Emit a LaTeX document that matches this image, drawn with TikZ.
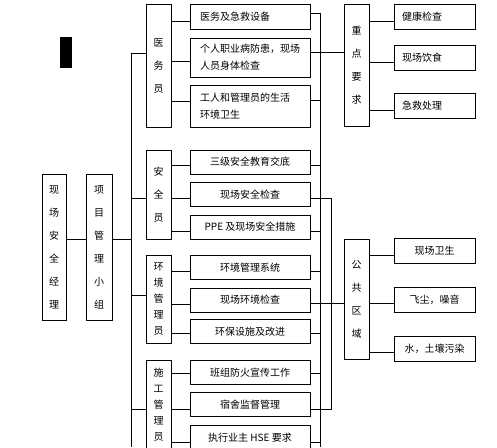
\documentclass[tikz,border=0pt]{standalone}
\usepackage{fontspec}
\newfontfamily\cjk{Noto Sans CJK SC}

\begin{document}
\begin{tikzpicture}[
  x=1pt, y=-1pt, line width=0.9pt,
  font=\cjk\fontsize{10}{12}\selectfont,
  item/.style={draw, minimum width=120, minimum height=24, inner sep=0pt},
  mitem/.style={item, align=left, text width=100, font=\cjk\fontsize{10}{17}\selectfont},
  ritem/.style={draw, minimum width=81, minimum height=25, inner sep=0pt},
  kitem/.style={ritem, align=left, text width=65},
  grp/.style={draw, minimum width=25, inner sep=0pt, align=center,
    font=\cjk\fontsize{10}{23}\selectfont},
  tight/.style={font=\cjk\fontsize{10}{16}\selectfont},
]
\useasboundingbox (0,0) rectangle (497,447);

% ---------- LEFT: MANAGER AND TEAM ----------
\fill (60,37) rectangle (72,68);
\node[grp, minimum width=24, minimum height=146] (mgr) at (54,247) {现\\场\\安\\全\\经\\理};
\node[grp, minimum width=26, minimum height=146] (team) at (99,247) {项\\目\\管\\理\\小\\组};
\coordinate (lbus) at (131,447);

% ---------- GROUPS ----------
\node[grp, minimum height=123] (med) at (158.5,65.5) {医\\务\\员};
\node[grp, minimum height=89] (safe) at (158.5,194.5) {安\\全\\员};
\node[grp, tight, minimum height=88] (env) at (158.5,299) {环\\境\\管\\理\\员};
\node[grp, tight, minimum height=90] (cons) at (158.5,405) {施\\工\\管\\理\\员};

% ---------- ITEMS ----------
\node[mitem, minimum height=25] (m1) at (250,16.5) {医务及急救设备};
\node[mitem, minimum height=39] (m2) at (250,57.5) {个人职业病防患，现场\\人员身体检查};
\node[mitem, minimum height=42] (m3) at (250,106) {工人和管理员的生活\\环境卫生};
\foreach \n/\y/\t in {%
  s1/162/三级安全教育交底, s2/194.5/现场安全检查, s3/227/PPE 及现场安全措施,%
  e1/267.5/环境管理系统, e2/300/现场环境检查, e3/331.5/环保设施及改进,%
  c1/372.5/班组防火宣传工作, c2/404.5/宿舍监督管理, c3/437.5/执行业主 HSE 要求}{%
  \node[item] (\n) at (250,\y) {\t};}

% ---------- RIGHT: KEY POINTS AND PUBLIC AREA ----------
\node[grp, minimum height=122] (key) at (356.5,65) {重\\点\\要\\求};
\node[grp, minimum height=120] (pub) at (356.5,299) {公\\共\\区\\域};
\foreach \n/\y/\t in {k1/16.5/健康检查, k2/57.5/现场饮食, k3/105.5/急救处理}{%
  \node[kitem] (\n) at (434.5,\y) {\t};}
\foreach \n/\y/\t in {p1/251/现场卫生, p2/299.5/飞尘，噪音, p3/349/水，土壤污染}{%
  \node[ritem] (\n) at (434.5,\y) {\t};}
\coordinate (rbus) at (320,447);
\coordinate (rbus2) at (331,0);

% ---------- CONNECTORS ----------
\draw (mgr.east |- 0,239) -- (team.west |- 0,239);
\draw (team.east |- 0,239) -- (lbus |- 0,239);
\draw (med.west |- 0,53) -| (lbus);
\foreach \g/\y in {safe/198, env/295, cons/409}
  \draw (\g.west |- 0,\y) -- (lbus |- 0,\y);
\foreach \g/\i/\y in {med/m1/21, med/m2/61, med/m3/101,
  safe/s1/165, safe/s2/198, safe/s3/231, env/e1/271, env/e2/304, env/e3/333,
  cons/c1/373, cons/c2/409, cons/c3/442}
  \draw (\g.east |- 0,\y) -- (\i.west |- 0,\y);
\draw (m1.east |- 0,13) -| (rbus);
\foreach \i/\y in {m2/52, m3/100, s1/165, s3/231, e1/271, e3/333, c1/373, c3/442}
  \draw (\i.east |- 0,\y) -- (rbus |- 0,\y);
\draw (s2.east |- 0,198) -| (rbus2 |- 0,409) -- (c2.east |- 0,409);
\draw (rbus |- 0,52) -- (key.west |- 0,52);
\draw (e2.east |- 0,303) -- (pub.west |- 0,303);
\foreach \i/\y in {k1/21, k2/62, k3/110}
  \draw (key.east |- 0,\y) -- (\i.west |- 0,\y);
\foreach \i/\y in {p1/255, p2/303, p3/352}
  \draw (pub.east |- 0,\y) -- (\i.west |- 0,\y);

\end{tikzpicture}
\end{document}
